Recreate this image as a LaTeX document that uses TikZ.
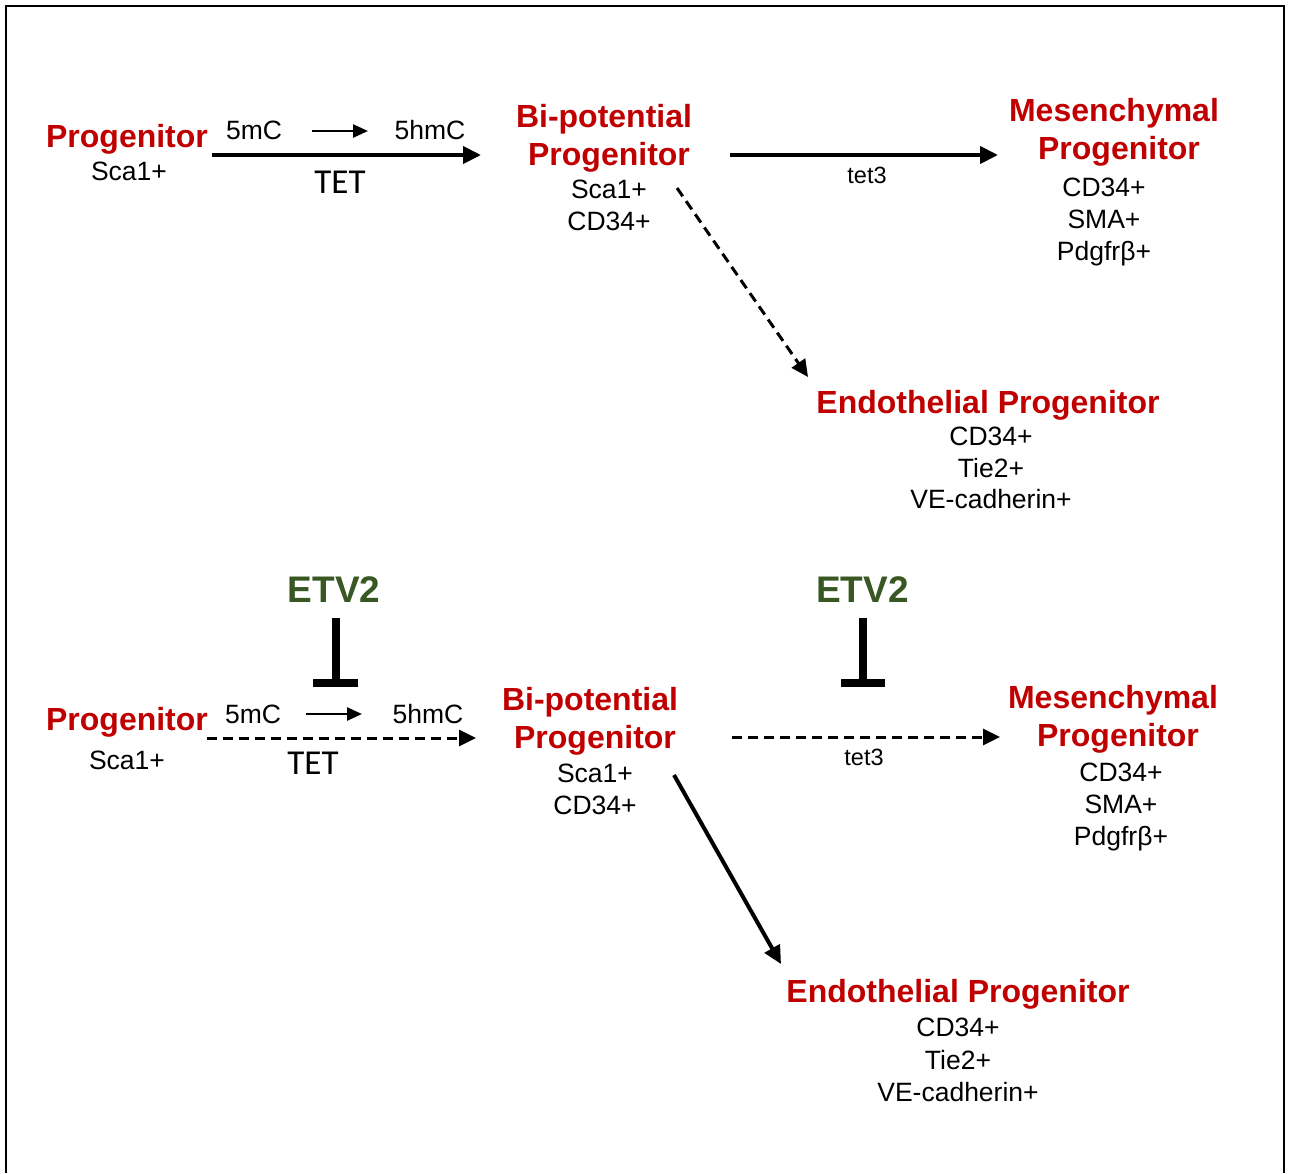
\documentclass[tikz,border=0pt]{standalone}
\usepackage{fontspec}
\setmainfont{Liberation Sans}
\newfontfamily\calfont{Carlito}
\usetikzlibrary{arrows.meta}
\definecolor{cellred}{HTML}{C00000}
\definecolor{etvgreen}{HTML}{385723}
\tikzset{
  title/.style={anchor=base, inner sep=0pt, text=cellred, font=\fontsize{32}{38}\selectfont\bfseries},
  marker/.style={anchor=base, inner sep=0pt, font=\fontsize{26.5}{32}\selectfont},
  enz/.style={anchor=base, inner sep=0pt, font=\calfont\fontsize{35}{40}\selectfont},
  smalllab/.style={anchor=base, inner sep=0pt, font=\fontsize{23.5}{27}\selectfont},
  etv/.style={anchor=base, inner sep=0pt, text=etvgreen, font=\fontsize{37}{43}\selectfont\bfseries},
  mainarrow/.style={line width=4pt, -{Triangle[length=18pt,width=17pt]}},
  dasharrow/.style={line width=3pt, dash pattern=on 10pt off 6pt, -{Triangle[length=17pt,width=16pt]}},
  minorarrow/.style={line width=2.5pt, -{Triangle[length=15pt,width=13pt]}},
  inhib/.style={line width=8pt},
}
\begin{document}
\begin{tikzpicture}[x=1pt,y=-1pt]
\useasboundingbox (0,0) rectangle (1292,1173);
\draw[line width=2.5pt, line join=miter] (6,1173) -- (6,6) -- (1284,6) -- (1284,1173);

% ---------- top ----------
\node[title] (p1) at (127,147.5) {Progenitor};
\node[marker] (p1m) at (129,180) {Sca1+};
\node[marker] (m1a) at (254,139) {5mC};
\node[marker] (m1b) at (430,139) {5hmC};
\node[enz] (tet1) at (340,193) {TET};
\node[title] (b1a) at (604,127) {Bi-potential};
\node[title] (b1b) at (609,165) {Progenitor};
\node[marker] (b1c) at (609,198) {Sca1+};
\node[marker] (b1d) at (609,230) {CD34+};
\node[smalllab] (t1) at (867,183) {tet3};
\node[title] (ms1a) at (1114,121) {Mesenchymal};
\node[title] (ms1b) at (1119,159) {Progenitor};
\node[marker] (ms1c) at (1104,196) {CD34+};
\node[marker] (ms1d) at (1104,228) {SMA+};
\node[marker] (ms1e) at (1104,260) {Pdgfrβ+};
\node[title] (e1a) at (988,413) {Endothelial Progenitor};
\node[marker] (e1b) at (991,445) {CD34+};
\node[marker] (e1c) at (991,477) {Tie2+};
\node[marker] (e1d) at (991,508) {VE-cadherin+};

\coordinate (a1s) at (212,155); \coordinate (a1e) at (481,155);
\coordinate (s1s) at (312,131); \coordinate (s1e) at (368,131);
\coordinate (c1s) at (730,155); \coordinate (c1e) at (998,155);
\coordinate (d1s) at (677,188); \coordinate (d1e) at (808,377);
\draw[mainarrow] (a1s) -- (a1e);
\draw[minorarrow] (s1s) -- (s1e);
\draw[mainarrow] (c1s) -- (c1e);
\draw[dasharrow] (d1s) -- (d1e);

% ---------- bottom ----------
\node[etv] (etv1) at (334,602) {ETV2};
\node[etv] (etv2) at (862.5,602) {ETV2};
\node[title] (p2) at (127,730) {Progenitor};
\node[marker] (p2m) at (127,769) {Sca1+};
\node[marker] (m2a) at (253,723) {5mC};
\node[marker] (m2b) at (428,723) {5hmC};
\node[enz] (tet2) at (313,774) {TET};
\node[title] (b2a) at (590,710) {Bi-potential};
\node[title] (b2b) at (595,748) {Progenitor};
\node[marker] (b2c) at (595,782) {Sca1+};
\node[marker] (b2d) at (595,814) {CD34+};
\node[smalllab] (t2) at (864,765) {tet3};
\node[title] (ms2a) at (1113,708) {Mesenchymal};
\node[title] (ms2b) at (1118,746) {Progenitor};
\node[marker] (ms2c) at (1121,781) {CD34+};
\node[marker] (ms2d) at (1121,813) {SMA+};
\node[marker] (ms2e) at (1121,845) {Pdgfrβ+};
\node[title] (e2a) at (958,1002) {Endothelial Progenitor};
\node[marker] (e2b) at (958,1036) {CD34+};
\node[marker] (e2c) at (958,1069) {Tie2+};
\node[marker] (e2d) at (958,1101) {VE-cadherin+};

\coordinate (a2s) at (207,738); \coordinate (a2e) at (476,738);
\coordinate (s2s) at (306,714); \coordinate (s2e) at (362,714);
\coordinate (c2s) at (732,737); \coordinate (c2e) at (1000,737);
\coordinate (d2s) at (674,775); \coordinate (d2e) at (781,964);
\draw[dasharrow] (a2s) -- (a2e);
\draw[minorarrow] (s2s) -- (s2e);
\draw[dasharrow] (c2s) -- (c2e);
\draw[mainarrow] (d2s) -- (d2e);

% inhibitors
\coordinate (i1t) at (336,618); \coordinate (i1b) at (336,683);
\coordinate (i1l) at (313,683); \coordinate (i1r) at (358,683);
\coordinate (i2t) at (863,618); \coordinate (i2b) at (863,683);
\coordinate (i2l) at (841,683); \coordinate (i2r) at (885,683);
\draw[inhib] (i1t) -- (i1b);
\draw[inhib] (i1l) -- (i1r);
\draw[inhib] (i2t) -- (i2b);
\draw[inhib] (i2l) -- (i2r);
\end{tikzpicture}
\end{document}
